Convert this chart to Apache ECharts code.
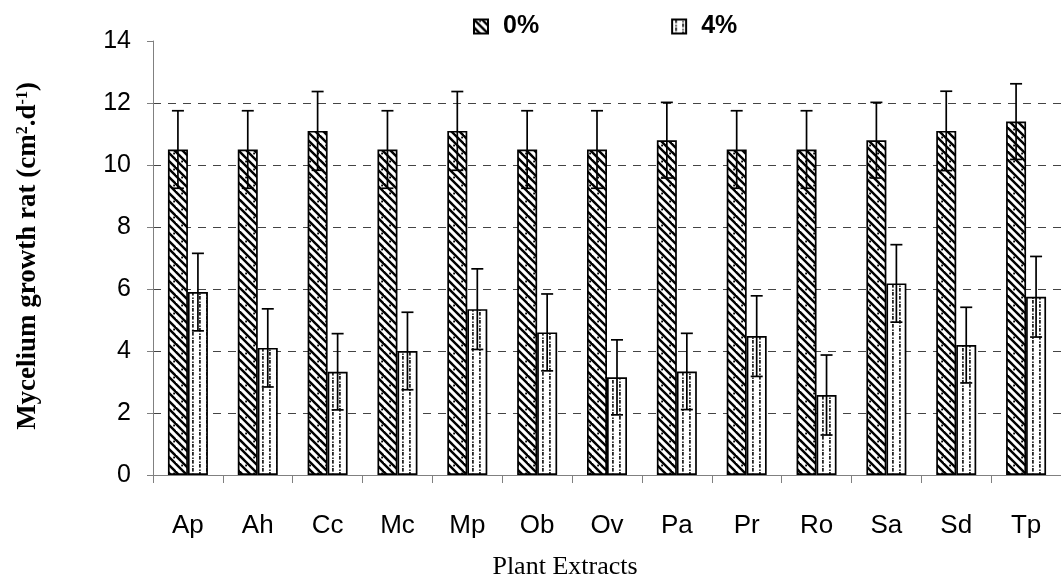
<!DOCTYPE html>
<html>
<head>
<meta charset="utf-8">
<script src="https://cdn.jsdelivr.net/npm/echarts@6/dist/echarts.min.js"></script>
<style>
  html, body { margin: 0; padding: 0; background: #fff; }
  #chart { width: 1061px; height: 579px; }
</style>
</head>
<body>
<div id="chart"></div>
<script>
// Plant extracts and mycelium growth rate (cm2.d-1) at 0% and 4%
const categories = ['Ap', 'Ah', 'Cc', 'Mc', 'Mp', 'Ob', 'Ov', 'Pa', 'Pr', 'Ro', 'Sa', 'Sd', 'Tp'];
const rate0 = [10.5, 10.5, 11.1, 10.5, 11.1, 10.5, 10.5, 10.8, 10.5, 10.5, 10.8, 11.1, 11.4];
const err0  = [1.25, 1.25, 1.27, 1.25, 1.27, 1.25, 1.25, 1.22, 1.25, 1.25, 1.22, 1.28, 1.22];
const rate4 = [5.9, 4.1, 3.33, 4.0, 5.35, 4.6, 3.15, 3.34, 4.48, 2.58, 6.18, 4.19, 5.75];
const err4  = [1.25, 1.26, 1.23, 1.25, 1.3, 1.24, 1.21, 1.23, 1.3, 1.29, 1.25, 1.22, 1.3];
const seriesNames = ['0%', '4%'];
const yTicks = { min: 0, max: 14, step: 2 };

// Hatch fill: diagonal stripes with dots in the gaps
function stripeTile() {
  const c = document.createElement('canvas');
  c.width = 16; c.height = 16;
  const g = c.getContext('2d');
  g.fillStyle = '#fff';
  g.fillRect(0, 0, 16, 16);
  g.strokeStyle = '#000';
  g.lineWidth = 2.4;
  for (let k = -16; k <= 16; k += 8) {
    g.beginPath();
    g.moveTo(k - 2, -2);
    g.lineTo(k + 18, 18);
    g.stroke();
  }
  g.fillStyle = '#000';
  g.fillRect(5.2, 0.6, 1.8, 1.8);
  g.fillRect(13.2, 8.6, 1.8, 1.8);
  return c;
}

// Light fill: columns of short vertical dashes and dots
function dashTile() {
  const c = document.createElement('canvas');
  c.width = 14; c.height = 8;
  const g = c.getContext('2d');
  g.fillStyle = '#fff';
  g.fillRect(0, 0, 14, 8);
  g.fillStyle = '#222';
  g.fillRect(3, 0, 1.8, 3.6);
  g.fillRect(3, 5.5, 1.8, 1.4);
  g.fillRect(10, 4, 1.8, 3.6);
  g.fillRect(10, 1.5, 1.8, 1.4);
  return c;
}

const fill0 = { image: stripeTile(), repeat: 'repeat' };
const fill4 = { image: dashTile(), repeat: 'repeat' };

const BAR_W = 20;

function errorBars(values, errs, offset) {
  return {
    type: 'custom',
    z: 10,
    silent: true,
    renderItem: function (params, api) {
      const i = api.value(0), v = api.value(1), e = api.value(2);
      const top = api.coord([i, v + e]);
      const bot = api.coord([i, v - e]);
      const x = top[0] + offset;
      const cap = 6;
      const style = { stroke: '#000', lineWidth: 1.7 };
      return {
        type: 'group',
        children: [
          { type: 'line', shape: { x1: x, y1: top[1], x2: x, y2: bot[1] }, style: style },
          { type: 'line', shape: { x1: x - cap, y1: top[1], x2: x + cap, y2: top[1] }, style: style },
          { type: 'line', shape: { x1: x - cap, y1: bot[1], x2: x + cap, y2: bot[1] }, style: style }
        ]
      };
    },
    data: values.map((v, i) => [i, v, errs[i]])
  };
}

const chart = echarts.init(document.getElementById('chart'), null, { renderer: 'canvas' });

chart.setOption({
  animation: false,
  backgroundColor: '#fff',
  grid: { left: 153, top: 41, width: 915, height: 434, containLabel: false },
  legend: {
    data: seriesNames,
    left: 468,
    top: 9,
    itemWidth: 14,
    itemHeight: 14,
    itemGap: 132,
    icon: 'rect',
    textStyle: {
      fontFamily: 'Liberation Sans, Arial, sans-serif',
      fontWeight: 'bold',
      fontSize: 25,
      color: '#000',
      padding: [0, 0, 0, 10]
    }
  },
  xAxis: {
    type: 'category',
    data: categories,
    axisLine: { lineStyle: { color: '#808080', width: 1 } },
    axisTick: { show: true, length: 8, lineStyle: { color: '#808080' } },
    axisLabel: {
      color: '#000',
      fontFamily: 'Liberation Sans, Arial, sans-serif',
      fontSize: 26,
      margin: 38
    },
    splitLine: { show: false }
  },
  yAxis: {
    type: 'value',
    min: yTicks.min,
    max: yTicks.max,
    interval: yTicks.step,
    axisLine: { show: true, lineStyle: { color: '#808080', width: 1 } },
    axisTick: { show: true, length: 6, lineStyle: { color: '#808080' } },
    axisLabel: {
      color: '#000',
      fontFamily: 'Liberation Sans, Arial, sans-serif',
      fontSize: 25,
      margin: 22
    },
    splitLine: {
      show: true,
      showMinLine: false,
      showMaxLine: false,
      lineStyle: { color: '#444', width: 1, type: [8, 7] }
    }
  },
  graphic: [
    {
      type: 'text',
      x: 28,
      y: 256,
      rotation: Math.PI / 2,
      style: {
        text: '{t|Mycelium growth rat (cm}{s|2}{t|.d}{s|-1}{t|)}',
        align: 'center',
        verticalAlign: 'middle',
        rich: {
          t: { fontFamily: 'Liberation Serif, Times New Roman, serif', fontWeight: 'bold', fontSize: 27, fill: '#000', verticalAlign: 'bottom' },
          s: { fontFamily: 'Liberation Serif, Times New Roman, serif', fontWeight: 'bold', fontSize: 16, fill: '#000', verticalAlign: 'top' }
        }
      }
    },
    {
      type: 'text',
      x: 565,
      y: 567,
      style: {
        text: 'Plant Extracts',
        align: 'center',
        verticalAlign: 'middle',
        fontFamily: 'Liberation Serif, Times New Roman, serif',
        fontSize: 26,
        fill: '#000'
      }
    }
  ],
  series: [
    {
      name: seriesNames[0],
      type: 'bar',
      data: rate0,
      barWidth: BAR_W,
      barGap: '0%',
      itemStyle: { color: fill0, borderColor: '#000', borderWidth: 1.7 }
    },
    {
      name: seriesNames[1],
      type: 'bar',
      data: rate4,
      barWidth: BAR_W,
      barGap: '0%',
      itemStyle: { color: fill4, borderColor: '#000', borderWidth: 1.7 }
    },
    errorBars(rate0, err0, -BAR_W / 2),
    errorBars(rate4, err4, BAR_W / 2)
  ]
});
</script>
</body>
</html>
